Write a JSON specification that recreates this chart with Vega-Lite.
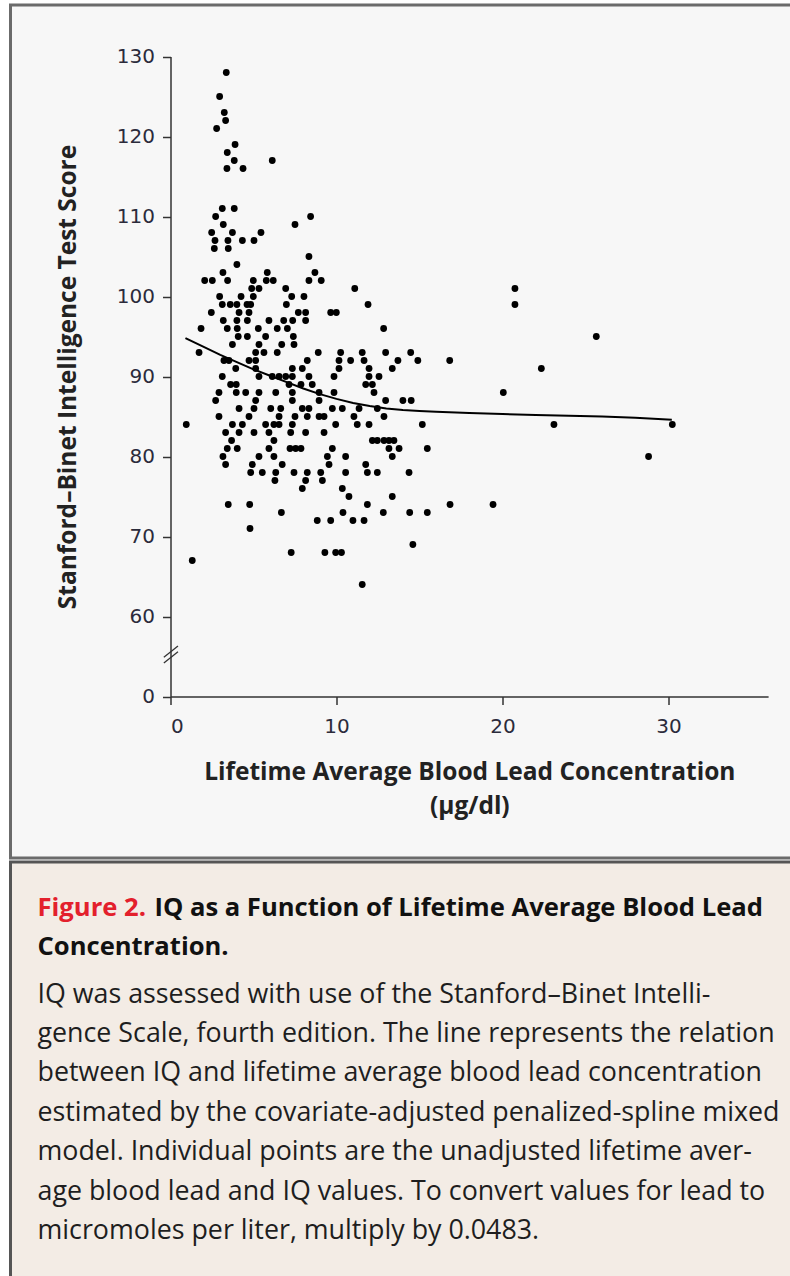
{
  "$schema": "https://vega.github.io/schema/vega-lite/v6.json",
  "background": "white",
  "padding": {"left": 8.5, "top": 3, "right": -3, "bottom": -3},
  "spacing": 0,
  "config": {"concat": {"spacing": 0}},
  "datasets": {
    "points": [
      {"lead":3.36,"iq":128},{"lead":2.96,"iq":125},{"lead":3.24,"iq":123},{"lead":3.32,"iq":122},{"lead":2.78,"iq":121},
      {"lead":3.89,"iq":119},{"lead":3.42,"iq":118},{"lead":3.84,"iq":117},{"lead":3.40,"iq":116},{"lead":4.37,"iq":116},
      {"lead":6.13,"iq":117},{"lead":3.12,"iq":111},{"lead":3.84,"iq":111},{"lead":2.72,"iq":110},{"lead":7.5,"iq":109},
      {"lead":3.18,"iq":109},{"lead":2.48,"iq":108},{"lead":3.73,"iq":108},{"lead":5.45,"iq":108},{"lead":2.68,"iq":107},
      {"lead":3.46,"iq":107},{"lead":4.33,"iq":107},{"lead":5.03,"iq":107},{"lead":2.64,"iq":106},{"lead":3.48,"iq":106},
      {"lead":4.0,"iq":104},{"lead":3.16,"iq":103},{"lead":5.83,"iq":103},{"lead":2.06,"iq":102},{"lead":2.52,"iq":102},
      {"lead":3.44,"iq":102},{"lead":4.99,"iq":102},{"lead":5.77,"iq":102},{"lead":6.19,"iq":102},{"lead":5.33,"iq":101},
      {"lead":6.94,"iq":101},{"lead":4.89,"iq":101},{"lead":2.96,"iq":100},{"lead":7.3,"iq":100},{"lead":4.99,"iq":100},
      {"lead":4.25,"iq":100},{"lead":3.12,"iq":99},{"lead":3.6,"iq":99},{"lead":4.0,"iq":99},{"lead":4.61,"iq":99},
      {"lead":4.83,"iq":99},{"lead":6.98,"iq":99},{"lead":2.46,"iq":98},{"lead":4.13,"iq":98},{"lead":4.73,"iq":98},
      {"lead":3.18,"iq":97},{"lead":4.0,"iq":97},{"lead":4.63,"iq":97},{"lead":5.93,"iq":97},{"lead":6.82,"iq":97},
      {"lead":7.36,"iq":97},{"lead":1.84,"iq":96},{"lead":3.42,"iq":96},{"lead":4.02,"iq":96},{"lead":5.29,"iq":96},
      {"lead":6.43,"iq":96},{"lead":7.04,"iq":96},{"lead":4.08,"iq":95},{"lead":4.63,"iq":95},{"lead":5.73,"iq":95},
      {"lead":7.4,"iq":95},{"lead":3.73,"iq":94},{"lead":5.33,"iq":94},{"lead":6.7,"iq":94},{"lead":7.44,"iq":94},
      {"lead":1.72,"iq":93},{"lead":5.13,"iq":93},{"lead":5.63,"iq":93},{"lead":6.43,"iq":93},{"lead":3.22,"iq":92},
      {"lead":3.52,"iq":92},{"lead":3.93,"iq":91},{"lead":4.73,"iq":92},{"lead":5.13,"iq":92},{"lead":5.13,"iq":91},
      {"lead":5.33,"iq":90},{"lead":6.13,"iq":90},{"lead":6.54,"iq":90},{"lead":6.94,"iq":90},{"lead":7.34,"iq":90},
      {"lead":3.12,"iq":90},{"lead":3.62,"iq":89},{"lead":3.96,"iq":89},{"lead":2.92,"iq":88},{"lead":3.96,"iq":88},
      {"lead":4.53,"iq":88},{"lead":5.33,"iq":88},{"lead":6.34,"iq":88},{"lead":7.34,"iq":88},{"lead":2.72,"iq":87},
      {"lead":5.13,"iq":87},{"lead":4.13,"iq":86},{"lead":6.04,"iq":86},{"lead":6.64,"iq":86},{"lead":2.92,"iq":85},
      {"lead":4.73,"iq":85},{"lead":5.03,"iq":86},{"lead":6.54,"iq":85},{"lead":7.5,"iq":85},{"lead":3.73,"iq":84},
      {"lead":4.33,"iq":84},{"lead":5.73,"iq":84},{"lead":6.23,"iq":84},{"lead":6.54,"iq":84},{"lead":0.95,"iq":84},
      {"lead":3.32,"iq":83},{"lead":4.13,"iq":83},{"lead":5.03,"iq":83},{"lead":5.93,"iq":83},{"lead":7.24,"iq":83},
      {"lead":6.23,"iq":82},{"lead":3.68,"iq":82},{"lead":3.42,"iq":81},{"lead":4.02,"iq":81},{"lead":5.93,"iq":81},
      {"lead":7.2,"iq":81},{"lead":7.54,"iq":81},{"lead":3.16,"iq":80},{"lead":5.33,"iq":80},{"lead":6.23,"iq":80},
      {"lead":3.32,"iq":79},{"lead":4.93,"iq":79},{"lead":6.73,"iq":79},{"lead":4.83,"iq":78},{"lead":5.53,"iq":78},
      {"lead":6.34,"iq":78},{"lead":7.44,"iq":78},{"lead":6.29,"iq":77},{"lead":3.48,"iq":74},{"lead":4.77,"iq":74},
      {"lead":6.68,"iq":73},{"lead":4.79,"iq":71},{"lead":7.27,"iq":68},{"lead":1.31,"iq":67},{"lead":8.44,"iq":110},
      {"lead":8.34,"iq":105},{"lead":8.7,"iq":103},{"lead":8.34,"iq":102},{"lead":9.08,"iq":102},{"lead":11.1,"iq":101},
      {"lead":8.04,"iq":100},{"lead":11.9,"iq":99},{"lead":7.7,"iq":98},{"lead":8.14,"iq":98},{"lead":9.65,"iq":98},
      {"lead":9.99,"iq":98},{"lead":8.14,"iq":97},{"lead":12.84,"iq":96},{"lead":8.9,"iq":93},{"lead":10.25,"iq":93},
      {"lead":11.55,"iq":93},{"lead":12.96,"iq":93},{"lead":14.47,"iq":93},{"lead":8.24,"iq":92},{"lead":10.15,"iq":92},
      {"lead":10.85,"iq":92},{"lead":11.66,"iq":92},{"lead":13.7,"iq":92},{"lead":14.9,"iq":92},{"lead":7.34,"iq":91},
      {"lead":7.94,"iq":91},{"lead":10.15,"iq":91},{"lead":11.96,"iq":91},{"lead":13.36,"iq":91},{"lead":8.34,"iq":90},
      {"lead":9.85,"iq":90},{"lead":11.96,"iq":90},{"lead":12.56,"iq":90},{"lead":7.14,"iq":89},{"lead":7.86,"iq":89},
      {"lead":8.54,"iq":89},{"lead":11.76,"iq":89},{"lead":12.16,"iq":89},{"lead":8.95,"iq":88},{"lead":9.85,"iq":88},
      {"lead":12.26,"iq":88},{"lead":7.34,"iq":87},{"lead":8.95,"iq":87},{"lead":12.96,"iq":87},{"lead":14.0,"iq":87},
      {"lead":14.5,"iq":87},{"lead":7.94,"iq":86},{"lead":8.34,"iq":86},{"lead":9.75,"iq":86},{"lead":10.35,"iq":86},
      {"lead":11.36,"iq":86},{"lead":12.46,"iq":86},{"lead":8.24,"iq":85},{"lead":8.95,"iq":85},{"lead":9.25,"iq":85},
      {"lead":11.05,"iq":85},{"lead":12.86,"iq":85},{"lead":7.34,"iq":84},{"lead":9.95,"iq":84},{"lead":11.25,"iq":84},
      {"lead":11.96,"iq":84},{"lead":15.17,"iq":84},{"lead":8.14,"iq":83},{"lead":9.25,"iq":83},{"lead":12.16,"iq":82},
      {"lead":12.46,"iq":82},{"lead":12.86,"iq":82},{"lead":13.16,"iq":82},{"lead":13.46,"iq":82},{"lead":7.86,"iq":81},
      {"lead":9.75,"iq":81},{"lead":13.16,"iq":81},{"lead":13.77,"iq":81},{"lead":15.47,"iq":81},{"lead":9.45,"iq":80},
      {"lead":10.55,"iq":80},{"lead":13.36,"iq":80},{"lead":9.55,"iq":79},{"lead":11.76,"iq":79},{"lead":8.24,"iq":78},
      {"lead":9.05,"iq":78},{"lead":10.55,"iq":78},{"lead":11.86,"iq":78},{"lead":12.46,"iq":78},{"lead":14.37,"iq":78},
      {"lead":8.14,"iq":77},{"lead":9.15,"iq":77},{"lead":7.94,"iq":76},{"lead":10.35,"iq":76},{"lead":10.75,"iq":75},
      {"lead":13.36,"iq":75},{"lead":11.86,"iq":74},{"lead":10.39,"iq":73},{"lead":12.82,"iq":73},{"lead":14.41,"iq":73},
      {"lead":15.47,"iq":73},{"lead":8.84,"iq":72},{"lead":9.65,"iq":72},{"lead":10.99,"iq":72},{"lead":11.66,"iq":72},
      {"lead":14.6,"iq":69},{"lead":9.3,"iq":68},{"lead":9.95,"iq":68},{"lead":10.3,"iq":68},{"lead":11.55,"iq":64},
      {"lead":20.75,"iq":101},{"lead":20.75,"iq":99},{"lead":25.65,"iq":95},{"lead":16.82,"iq":92},{"lead":22.34,"iq":91},
      {"lead":20.05,"iq":88},{"lead":23.1,"iq":84},{"lead":16.84,"iq":74},{"lead":19.43,"iq":74},{"lead":30.23,"iq":84},
      {"lead":28.8,"iq":80}
    ],
    "curve": [
      {"lead":0.9,"iq":94.8},{"lead":2,"iq":93.7},{"lead":3,"iq":92.7},{"lead":4,"iq":91.8},{"lead":5,"iq":90.9},
      {"lead":6,"iq":90.1},{"lead":7,"iq":89.3},{"lead":8,"iq":88.5},{"lead":9,"iq":87.8},{"lead":10,"iq":87.2},
      {"lead":11,"iq":86.7},{"lead":12,"iq":86.3},{"lead":13,"iq":86.0},{"lead":14,"iq":85.8},{"lead":15,"iq":85.7},
      {"lead":16,"iq":85.6},{"lead":18,"iq":85.45},{"lead":20,"iq":85.3},{"lead":22,"iq":85.2},{"lead":24,"iq":85.1},
      {"lead":26,"iq":85.0},{"lead":28,"iq":84.85},{"lead":30.2,"iq":84.6}
    ],
    "breaks": [
      {"lead":-0.4,"iq":54.9,"lead2":0.45,"iq2":56.3},
      {"lead":-0.4,"iq":54.2,"lead2":0.45,"iq2":55.6}
    ],
    "caption": [
      {"pos":0,"col":0,"kind":"label","text":"Figure 2."},
      {"pos":0,"col":0.159,"kind":"title","text":"IQ as a Function of Lifetime Average Blood Lead"},
      {"pos":1,"col":0,"kind":"title","text":"Concentration."},
      {"pos":2.2,"col":0,"kind":"body","text":"IQ was assessed with use of the Stanford–Binet Intelli-"},
      {"pos":3.2,"col":0,"kind":"body","text":"gence Scale, fourth edition. The line represents the relation"},
      {"pos":4.2,"col":0,"kind":"body","text":"between IQ and lifetime average blood lead concentration"},
      {"pos":5.2,"col":0,"kind":"body","text":"estimated by the covariate-adjusted penalized-spline mixed"},
      {"pos":6.2,"col":0,"kind":"body","text":"model. Individual points are the unadjusted lifetime aver-"},
      {"pos":7.2,"col":0,"kind":"body","text":"age blood lead and IQ values. To convert values for lead to"},
      {"pos":8.2,"col":0,"kind":"body","text":"micromoles per liter, multiply by 0.0483."}
    ]
  },
  "vconcat": [
    {
      "width": 781,
      "height": 853,
      "view": {"fill": "#f7f7f7", "stroke": "#6b6b6b", "strokeWidth": 3},
      "layer": [
        {
          "data": {"name": "points"},
          "mark": {"type": "circle", "size": 46, "color": "#000000", "opacity": 1},
          "encoding": {
            "x": {
              "field": "lead", "type": "quantitative",
              "scale": {"domain": [0, 36], "range": [160, 757.6], "nice": false, "zero": false},
              "axis": {
                "orient": "bottom", "offset": -161.5, "values": [0, 10, 20, 30],
                "grid": false, "domainColor": "#333333", "domainWidth": 1.5,
                "tickColor": "#333333", "tickSize": 8, "tickWidth": 1.5,
                "labelFont": "DejaVu Sans", "labelFontSize": 20, "labelColor": "#2b2b3b", "labelPadding": 12,
                "title": ["Lifetime Average Blood Lead Concentration", "(µg/dl)"],
                "titleFont": "Open Sans, sans-serif",
                "titleFontSize": 24.5, "titleFontWeight": "bold", "titleColor": "#222222",
                "titlePadding": 24, "titleLineHeight": 34
              }
            },
            "y": {
              "field": "iq", "type": "quantitative",
              "scale": {"domain": [50, 130], "range": [691.5, 51.5], "nice": false, "zero": false},
              "axis": {
                "orient": "left", "offset": -160, "values": [50, 60, 70, 80, 90, 100, 110, 120, 130],
                "labelExpr": "datum.value == 50 ? '0' : datum.label",
                "grid": false, "domainColor": "#333333", "domainWidth": 1.5,
                "tickColor": "#333333", "tickSize": 8, "tickWidth": 1.5,
                "labelFont": "DejaVu Sans", "labelFontSize": 20, "labelColor": "#2b2b3b", "labelPadding": 8,
                "title": "Stanford–Binet Intelligence Test Score",
                "titleFont": "Open Sans, sans-serif",
                "titleFontSize": 24.5, "titleFontWeight": "bold", "titleColor": "#222222",
                "titlePadding": 36
              }
            }
          }
        },
        {
          "data": {"name": "curve"},
          "mark": {"type": "line", "color": "#000000", "strokeWidth": 2},
          "encoding": {
            "x": {"field": "lead", "type": "quantitative"},
            "y": {"field": "iq", "type": "quantitative"}
          }
        },
        {
          "data": {"name": "breaks"},
          "mark": {"type": "rule", "color": "#333333", "strokeWidth": 1.3, "clip": false},
          "encoding": {
            "x": {"field": "lead", "type": "quantitative"},
            "y": {"field": "iq", "type": "quantitative"},
            "x2": {"field": "lead2"},
            "y2": {"field": "iq2"}
          }
        }
      ]
    },
    {
      "width": 781,
      "height": 420,
      "view": {"fill": "#f3ece5", "stroke": "#555555", "strokeWidth": 3},
      "data": {"name": "caption"},
      "encoding": {
        "x": {"field": "col", "type": "quantitative", "scale": {"domain": [0, 1], "range": [27, 762.5]}, "axis": null},
        "y": {"field": "pos", "type": "quantitative", "scale": {"domain": [0, 8.2], "range": [54, 377], "nice": false, "zero": false}, "axis": null},
        "text": {"field": "text"},
        "color": {"field": "kind", "type": "nominal", "scale": {"domain": ["title", "label", "body"], "range": ["#111111", "#e3202c", "#1e1e1e"]}, "legend": null}
      },
      "layer": [
        {
          "transform": [{"filter": "datum.kind != 'body'"}],
          "mark": {"type": "text", "align": "left", "baseline": "alphabetic", "font": "Open Sans, sans-serif", "fontSize": 25.6, "fontWeight": "bold"}
        },
        {
          "transform": [{"filter": "datum.kind == 'body'"}],
          "mark": {"type": "text", "align": "left", "baseline": "alphabetic", "font": "Open Sans, sans-serif", "fontSize": 26.8}
        }
      ]
    }
  ]
}
